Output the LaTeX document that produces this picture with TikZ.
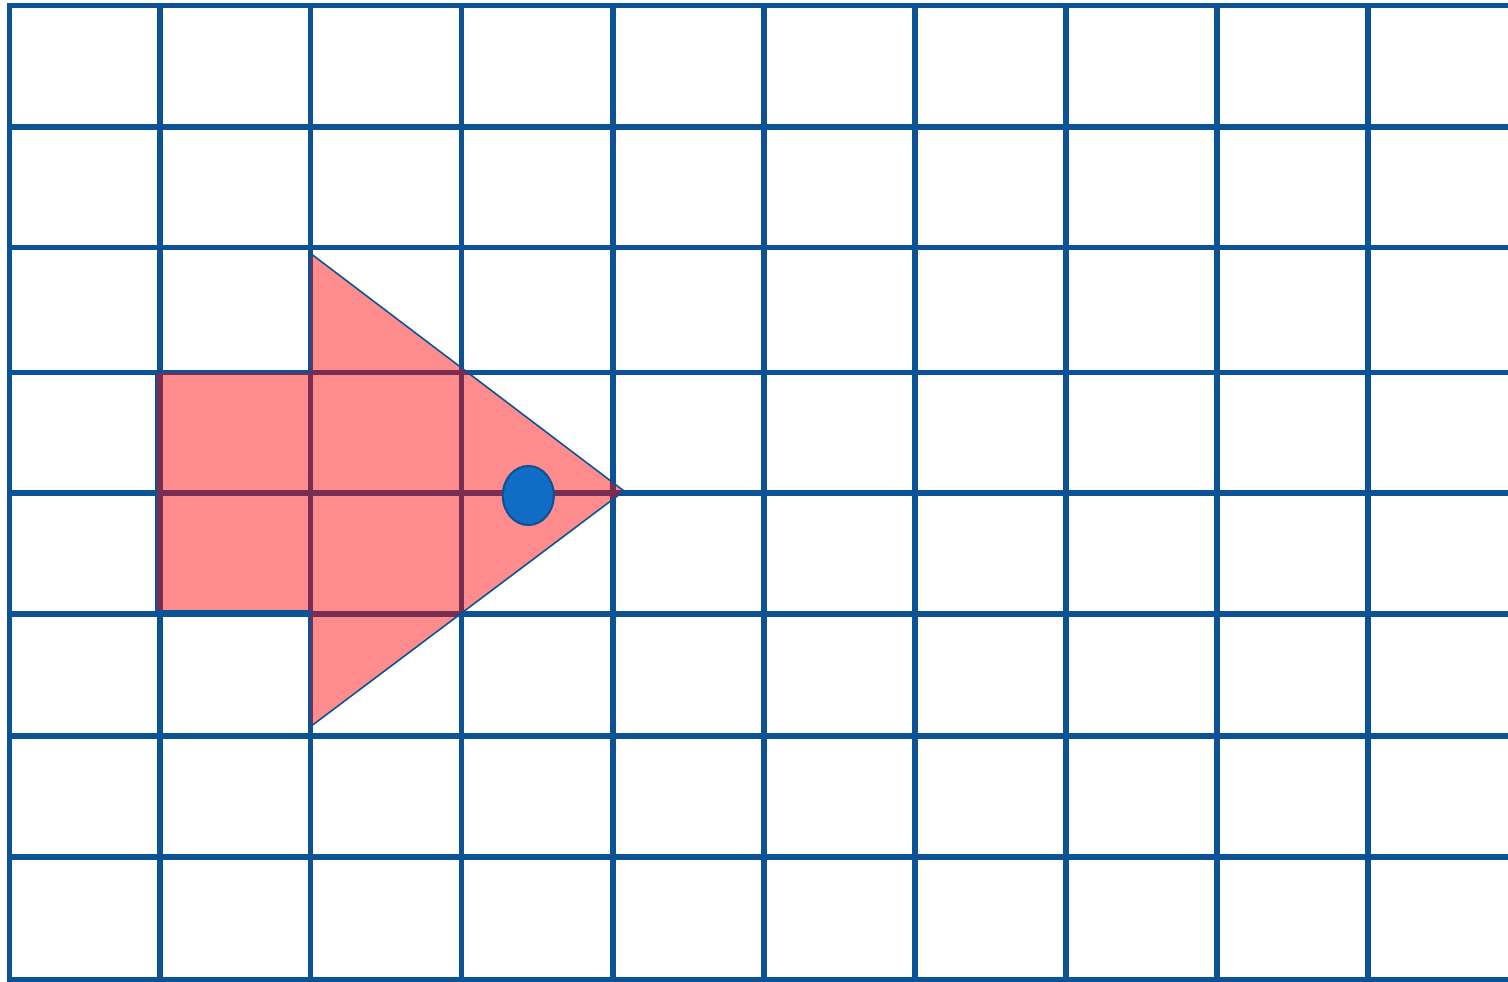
\documentclass[tikz,border=0pt]{standalone}
\definecolor{gradeazul}{RGB}{11,83,148}
\definecolor{olhoazul}{RGB}{16,108,196}
\begin{document}
\begin{tikzpicture}[
    x=0.01cm, y=-0.01cm,
    line cap=rect,
    grade/.style={draw=gradeazul, line width=1.5pt},
    peixe/.style={fill=red, fill opacity=0.45, draw=gradeazul, draw opacity=1, line width=0.45pt, line join=miter},
    olho/.style={fill=olhoazul, draw=gradeazul, line width=0.6pt}
]
\useasboundingbox (0,0) rectangle (1508,982);

% The grid
\foreach \gx in {9.5,160,310.5,461.5,613,764,915,1066,1217,1368}
    \draw[grade] (\gx,5.5) -- (\gx,979.5);
\foreach \gy in {5.5,127,247.5,372.5,493,614,736,857,979.5}
    \draw[grade] (9.5,\gy) -- (1508,\gy);

% The fish (body and tail in one outline)
\draw[peixe] (156,372) -- (310,372) -- (310,253) -- (624,491)
    -- (310,727) -- (310,611) -- (156,611) -- cycle;

% The eye
\draw[olho] (528.3,495.5) ellipse [x radius=25.5, y radius=29.5];

\end{tikzpicture}
\end{document}
